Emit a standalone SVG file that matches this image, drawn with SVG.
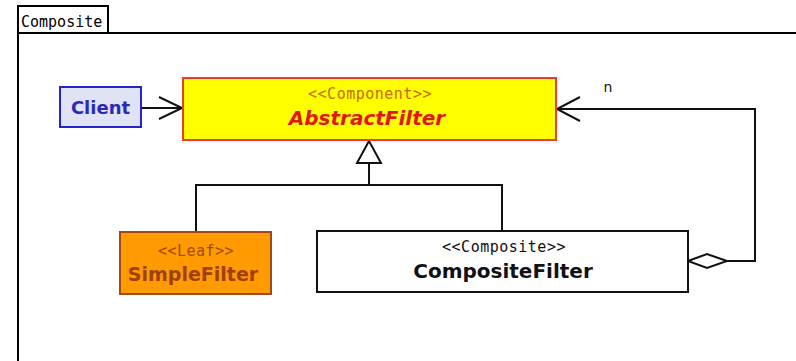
<svg xmlns="http://www.w3.org/2000/svg" width="796" height="361" viewBox="0 0 796 361">
  <style>
    .frame { fill: none; stroke: #000; stroke-width: 2; }
    .line { fill: none; stroke: #111; stroke-width: 2; }
    .mono { font-family: "DejaVu Sans Mono", "Liberation Mono", monospace; font-size: 15px; letter-spacing: 0.5px; text-anchor: middle; }
    .name { font-family: "DejaVu Sans", "Liberation Sans", sans-serif; font-weight: bold; text-anchor: middle; }
  </style>

  <rect width="796" height="361" fill="#fff"/>

  <!-- package frame with its tab -->
  <g id="frame">
    <path class="frame" d="M18,361 V6 H108 V33 M18,33 H796"/>
    <text x="21" y="27" font-family="DejaVu Sans Mono, Liberation Mono, monospace" font-size="15" fill="#000">Composite</text>
  </g>

  <!-- connectors -->
  <g id="connectors">
    <!-- Client uses AbstractFilter -->
    <path class="line" d="M141,108 H182 M159,97 L182,108 L159,119"/>
    <!-- generalization tree -->
    <path class="line" d="M196,232 V185 H502 V231 M369,185 V163"/>
    <path d="M369,141 L357,163 H381 Z" fill="#fff" stroke="#111" stroke-width="2"/>
    <!-- aggregation back to AbstractFilter -->
    <path class="line" d="M727,261 H755 V109 H557 M580,97 L557,109 L580,121"/>
    <path d="M688,261 L707,254 L727,261 L707,268 Z" fill="#fff" stroke="#111" stroke-width="2"/>
    <text x="608" y="92" font-family="DejaVu Sans, Liberation Sans, sans-serif" font-size="14" fill="#111" text-anchor="middle">n</text>
  </g>

  <g id="client">
    <rect x="60" y="87" width="81" height="40" fill="#e0e2f6" stroke="#2424cc" stroke-width="2"/>
    <text class="name" x="100.5" y="114" font-size="18" fill="#2a2ab8">Client</text>
  </g>

  <g id="abstractFilter">
    <rect x="183" y="78" width="373" height="62" fill="#ffff00" stroke="#ee3a2a" stroke-width="2"/>
    <text class="mono" x="370" y="99" fill="#c86a10">&lt;&lt;Component&gt;&gt;</text>
    <text class="name" x="367" y="125" font-size="20" font-style="italic" fill="#e01818">AbstractFilter</text>
  </g>

  <g id="simpleFilter">
    <rect x="120" y="232" width="151" height="62" fill="#ff9a00" stroke="#a04a1a" stroke-width="2"/>
    <text class="mono" x="196" y="256" fill="#a04a1a">&lt;&lt;Leaf&gt;&gt;</text>
    <text class="name" x="193" y="281" font-size="19" fill="#a0400f">SimpleFilter</text>
  </g>

  <g id="compositeFilter">
    <rect x="317" y="231" width="371" height="61" fill="#fff" stroke="#111" stroke-width="2"/>
    <text class="mono" x="504" y="252" fill="#111">&lt;&lt;Composite&gt;&gt;</text>
    <text class="name" x="503" y="278" font-size="20" fill="#111">CompositeFilter</text>
  </g>
</svg>
